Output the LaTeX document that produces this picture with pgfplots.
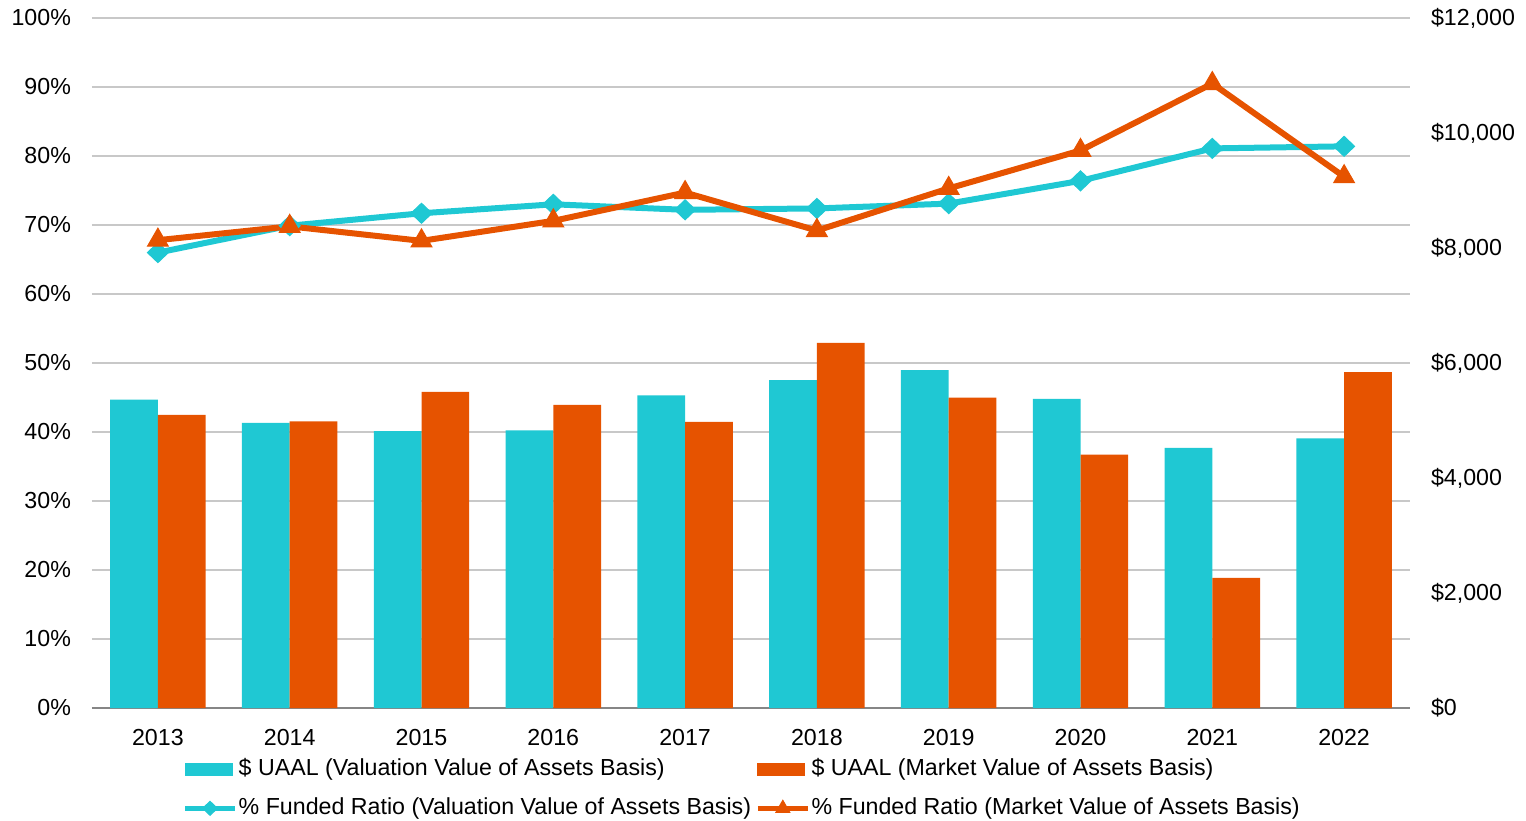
\documentclass[border=0pt]{standalone}
\usepackage{fontspec}
\setmainfont{Liberation Sans}
\usepackage{pgfplots}
\usepackage{pgfplotstable}
\pgfplotsset{compat=1.18}

\definecolor{cteal}{RGB}{31,200,211}
\definecolor{corange}{RGB}{230,83,0}
\definecolor{cgrid}{RGB}{200,200,200}
\definecolor{caxis}{RGB}{134,134,134}

% $ UAAL, right axis
\pgfplotstableread{
x teal orange
0 5362 5096
1 4957 4986
2 4817 5496
3 4829 5270
4 5438 4974
5 5704 6348
6 5878 5397
7 5374 4406
8 4522 2261
9 4690 5843
}\uaal

% funded ratio, left axis
\pgfplotstableread{
x val mkt
0 66.0 67.8
1 69.9 69.8
2 71.7 67.7
3 73.0 70.6
4 72.2 74.7
5 72.4 69.2
6 73.1 75.3
7 76.4 80.8
8 81.1 90.5
9 81.4 77.0
}\funded

\pgfplotsset{
  base/.style={
    scale only axis, width=659pt, height=345pt,
    xmin=-0.5, xmax=9.5,
    font=\fontsize{11.6}{14}\selectfont,
    /pgf/number format/assume math mode=true,
    major tick length=0pt,
  },
  linelegend/.style={
    legend image code/.code={\draw[mark repeat=2,mark phase=2,##1,line width=2.5pt,mark size=#1] plot coordinates {(0pt,0pt)(12.5pt,0pt)(25pt,0pt)};}
  },
}

\begin{document}
\begin{tikzpicture}
% left axis: grid, % labels, years
\begin{axis}[base, name=ax,
  ymin=0, ymax=100,
  ytick={0,10,...,100},
  yticklabels={0\%,10\%,20\%,30\%,40\%,50\%,60\%,70\%,80\%,90\%,100\%},
  ymajorgrids, grid style={cgrid, line width=0.8pt},
  axis x line*=bottom, axis y line*=left,
  y axis line style={draw=none},
  x axis line style={caxis, line width=0.6pt, -},
  xtick={0,...,9},
  xticklabels={2013,2014,2015,2016,2017,2018,2019,2020,2021,2022},
  xticklabel style={yshift=-7pt},
  yticklabel style={xshift=-7pt},
]
\end{axis}

% right axis: bars
\begin{axis}[base,
  ymin=0, ymax=12000,
  axis x line=none, axis y line*=right,
  y axis line style={draw=none},
  ytick={0,2000,...,12000},
  yticklabels={\$0,{\$2,000},{\$4,000},{\$6,000},{\$8,000},{\$10,000},{\$12,000}},
  yticklabel style={xshift=7pt},
]
\addplot[ybar, bar width=0.362, bar shift=-0.181, fill=cteal, draw=none] table[x=x,y=teal]{\uaal};
\addplot[ybar, bar width=0.362, bar shift=0.181, fill=corange, draw=none] table[x=x,y=orange]{\uaal};
\end{axis}

% lines + legend
\begin{axis}[base,
  ymin=0, ymax=100,
  hide axis,
  legend columns=2, legend cell align=left,
  legend style={at={(0.493,-0.068)}, anchor=north, draw=none, fill=none,
    inner sep=0pt, column sep=0pt, row sep=5.5pt,
    nodes={inner xsep=0.6pt, inner ysep=1pt, text height=9pt, text depth=3pt}},
]
\addlegendimage{legend image code/.code={\fill[cteal] (0pt,-3pt) rectangle (23.5pt,3pt);}}
\addlegendentry{\$ UAAL (Valuation Value of Assets Basis)}
\addlegendimage{legend image code/.code={\fill[corange] (0pt,-3pt) rectangle (23.5pt,3pt);}}
\addlegendentry{\$ UAAL (Market Value of Assets Basis)}

\addplot[cteal, line width=3pt, mark=diamond*, mark size=5pt,
  mark options={xscale=1.4, line width=0.5pt}, linelegend=3.5pt]
  table[x=x,y=val]{\funded};
\addlegendentry{\% Funded Ratio (Valuation Value of Assets Basis)\hspace*{1.5pt}}
\addplot[corange, line width=3pt, mark=triangle*, mark size=6pt,
  mark options={line width=0.5pt}, linelegend=4pt]
  table[x=x,y=mkt]{\funded};
\addlegendentry{\% Funded Ratio (Market Value of Assets Basis)}
\end{axis}

\pgfresetboundingbox
\path[use as bounding box] ([shift={(-46pt,-56pt)}]ax.south west) rectangle ([shift={(58pt,9pt)}]ax.north east);
\end{tikzpicture}
\end{document}
